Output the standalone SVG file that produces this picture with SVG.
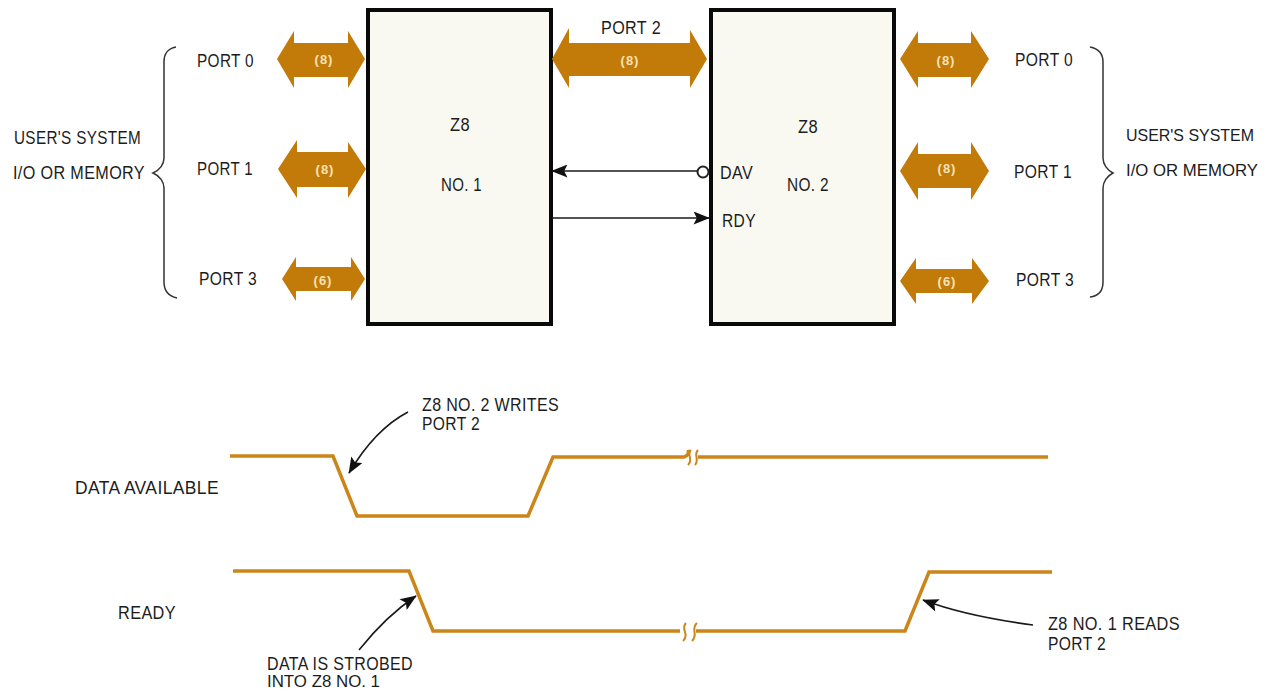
<svg xmlns="http://www.w3.org/2000/svg" width="1266" height="691" viewBox="0 0 1266 691">
<style>
text{font-family:"Liberation Sans",Arial,sans-serif;font-size:17.5px;fill:#1c1c1c;letter-spacing:.4px}
text.s{font-size:17px;letter-spacing:0}
text.b{font-size:16.5px;letter-spacing:0}
.w{fill:#f6e3b4;font-size:13px;font-weight:bold;text-anchor:middle;letter-spacing:1px}
.chip{fill:#f9f9f2;stroke:#0a0a0a;stroke-width:4}
.bus{fill:#c27a08}
.sig{fill:none;stroke:#cb8518;stroke-width:3.5;stroke-linejoin:miter}
.brk{fill:none;stroke:#cb8518;stroke-width:2}
.thin{fill:none;stroke:#1a1a1a;stroke-width:1.6}
.brace{fill:none;stroke:#333;stroke-width:1.5}
</style>
<defs><marker id="a" viewBox="0 0 10 8" refX="9.5" refY="4" markerWidth="18" markerHeight="13" markerUnits="userSpaceOnUse" orient="auto"><path d="M0 0L10 4L0 8L2 4Z" fill="#111"/></marker></defs>
<rect width="1266" height="691" fill="#fff"/>
<g id="chip1"><rect class="chip" x="368" y="10" width="183" height="314"/><text x="450" y="131" textLength="20" lengthAdjust="spacingAndGlyphs">Z8</text><text x="441" y="191" textLength="41" lengthAdjust="spacingAndGlyphs">NO. 1</text></g>
<g id="chip2"><rect class="chip" x="711" y="10" width="183" height="314"/><text x="798" y="133" textLength="20" lengthAdjust="spacingAndGlyphs">Z8</text><text x="787" y="191" textLength="42" lengthAdjust="spacingAndGlyphs">NO. 2</text><text x="720" y="179" textLength="33" lengthAdjust="spacingAndGlyphs">DAV</text><text x="722" y="227" textLength="34" lengthAdjust="spacingAndGlyphs">RDY</text></g>
<g id="buses">
<path class="bus" d="M277 59L294 31V43H348V31L365 59L348 88V77H294V88Z"/><text class="w" x="324" y="64">(8)</text>
<path class="bus" d="M278 169L297 140V152H348V142L366 169L348 198V187H297V198Z"/><text class="w" x="325" y="174">(8)</text>
<path class="bus" d="M282 279L296 257V267H351V257L365 279L351 301V291H296V301Z"/><text class="w" x="323" y="285">(6)</text>
<path class="bus" d="M552 59L569 28V43H690V30L707 59L690 88V76H569V88Z"/><text class="w" x="630" y="65">(8)</text>
<path class="bus" d="M900 59L918 31V43H971V31L989 59L971 88V77H918V88Z"/><text class="w" x="946" y="65">(8)</text>
<path class="bus" d="M900 171L918 142V154H971V142L989 171L971 200V188H918V200Z"/><text class="w" x="947" y="173">(8)</text>
<path class="bus" d="M900 281L916 258V269H972V258L989 281L972 304V293H916V304Z"/><text class="w" x="947" y="286">(6)</text>
</g>
<g id="connectors">
<path class="thin" d="M697 171H552" marker-end="url(#a)"/><circle cx="703" cy="172" r="5.5" fill="#fff" stroke="#222" stroke-width="2"/>
<path class="thin" d="M552 218H709" marker-end="url(#a)"/>
<path class="thin" d="M408 412C385 424 365 446 349 473" marker-end="url(#a)"/>
<path class="thin" d="M359 650C375 630 395 610 416 596" marker-end="url(#a)"/>
<path class="thin" d="M1033 625C995 620 955 612 923 600" marker-end="url(#a)"/>
</g>
<g id="braces">
<path class="brace" d="M176 47C166 49 164 55 164 62V158C164 164 160 170 153 173C160 176 164 182 164 188V282C164 291 168 296 177 298"/>
<path class="brace" d="M1090 47C1100 49 1103 55 1103 62V158C1103 164 1107 170 1113 173C1107 176 1103 182 1103 188V282C1103 291 1099 296 1090 297"/>
</g>
<g id="labels">
<text x="197" y="67" textLength="57" lengthAdjust="spacingAndGlyphs">PORT 0</text><text x="197" y="175" textLength="56" lengthAdjust="spacingAndGlyphs">PORT 1</text><text x="199" y="285" textLength="58" lengthAdjust="spacingAndGlyphs">PORT 3</text>
<text x="601" y="34" textLength="60" lengthAdjust="spacingAndGlyphs">PORT 2</text>
<text x="1015" y="66" textLength="58" lengthAdjust="spacingAndGlyphs">PORT 0</text><text x="1014" y="178" textLength="58" lengthAdjust="spacingAndGlyphs">PORT 1</text><text x="1016" y="286" textLength="58" lengthAdjust="spacingAndGlyphs">PORT 3</text>
<text x="14" y="144" textLength="127" lengthAdjust="spacingAndGlyphs">USER'S SYSTEM</text><text x="13" y="179" textLength="132" lengthAdjust="spacingAndGlyphs">I/O OR MEMORY</text>
<text class="s" x="1126" y="141" textLength="128" lengthAdjust="spacingAndGlyphs">USER'S SYSTEM</text><text class="s" x="1126" y="176" textLength="132" lengthAdjust="spacingAndGlyphs">I/O OR MEMORY</text>
<text x="75" y="494" textLength="144" lengthAdjust="spacingAndGlyphs">DATA AVAILABLE</text><text x="118" y="619" textLength="58" lengthAdjust="spacingAndGlyphs">READY</text>
<text x="422" y="411" textLength="137" lengthAdjust="spacingAndGlyphs">Z8 NO. 2 WRITES</text><text x="422" y="430" textLength="58" lengthAdjust="spacingAndGlyphs">PORT 2</text>
<text x="267" y="670" textLength="146" lengthAdjust="spacingAndGlyphs">DATA IS STROBED</text><text class="b" x="267" y="687" textLength="113" lengthAdjust="spacingAndGlyphs">INTO Z8 NO. 1</text>
<text x="1048" y="630" textLength="132" lengthAdjust="spacingAndGlyphs">Z8 NO. 1 READS</text><text x="1048" y="650" textLength="58" lengthAdjust="spacingAndGlyphs">PORT 2</text>
</g>
<g id="timing">
<path class="sig" d="M230 456H333L357 516H528L553 457H684C688 456 689 453 688 450"/><path class="sig" d="M698 457H1048"/>
<path class="brk" d="M691 450C686 455 694 459 688 465M698 450C693 455 700 459 695 465"/>
<path class="sig" d="M233 571H409L433 631H680"/><path class="sig" d="M696 631H905L929 572H1052"/>
<path class="brk" d="M686 623C680 629 690 634 683 641M697 623C690 629 699 634 692 641"/>
</g>
</svg>
